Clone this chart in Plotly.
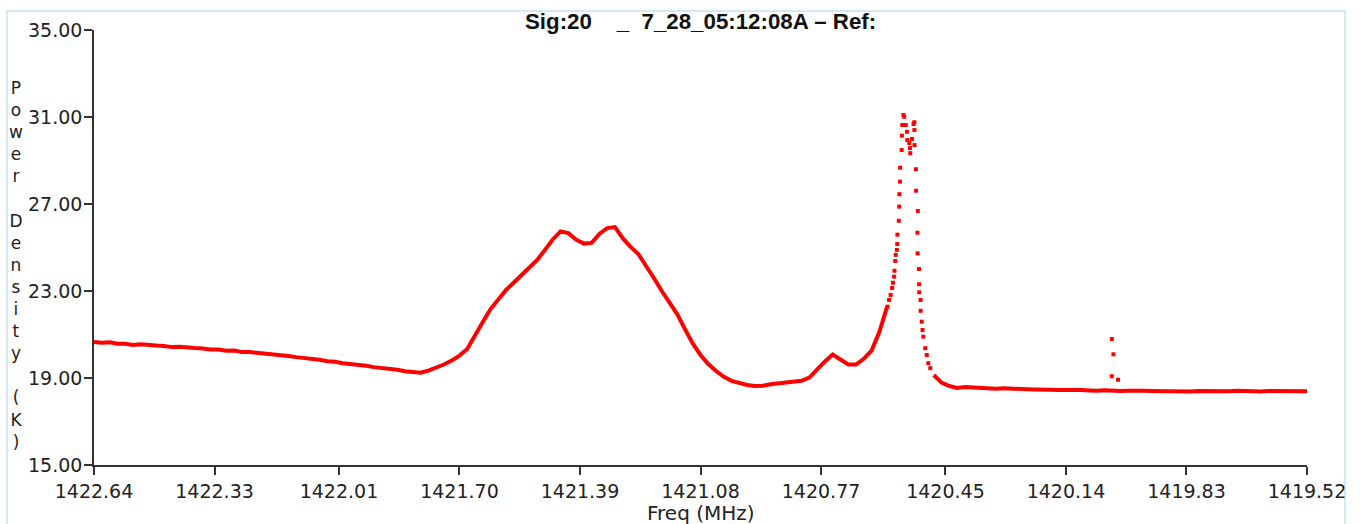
import plotly.graph_objects as go

# ---------------------------------------------------------------------------
# Spectrum data
# ---------------------------------------------------------------------------
# Continuum: evenly spaced channels starting at FREQ_START (MHz), step FREQ_STEP.
# None marks channels around the narrow line, which are listed separately.
FREQ_START = 1422.64
FREQ_STEP = -0.02

continuum_power = [
    20.66, 20.62, 20.64, 20.58, 20.57, 20.52, 20.55, 20.50, 20.49, 20.47,
    20.42, 20.44, 20.39, 20.38, 20.36, 20.31, 20.31, 20.25, 20.26, 20.20,
    20.19, 20.16, 20.10, 20.09, 20.03, 20.01, 19.96, 19.93, 19.86, 19.84,
    19.77, 19.75, 19.68, 19.65, 19.59, 19.56, 19.50, 19.47, 19.40, 19.38,
    19.31, 19.29, 19.24, 19.34, 19.46, 19.62, 19.80, 20.03, 20.33, 20.91,
    21.57, 22.17, 22.61, 23.05, 23.39, 23.74, 24.03, 24.43, 24.89, 25.37,
    25.74, 25.66, 25.36, 25.18, 25.21, 25.62, 25.89, 25.94, 25.43, 25.03,
    24.70, 24.18, 23.60, 23.01, 22.47, 21.94, 21.25, 20.59, 20.06, 19.64,
    19.32, 19.05, 18.87, 18.76, 18.68, 18.63, 18.64, 18.71, 18.74, 18.77,
    18.81, 18.87, 19.02, 19.41, 19.76, 20.08, 19.83, 19.62, 19.62, 19.88,
    20.26, 21.11, 22.28, None, None, None, None, None, 19.14, 18.79,
    18.63, 18.54, 18.59, 18.56, 18.54, 18.54, 18.51, 18.53, 18.50, 18.51,
    18.48, 18.47, 18.48, 18.46, 18.45, 18.46, 18.44, 18.45, 18.43, 18.41,
    18.44, 18.41, 18.40, 18.41, 18.39, 18.41, 18.40, 18.39, 18.41, 18.39,
    18.40, 18.38, 18.40, 18.39, 18.37, 18.40, 18.39, 18.41, 18.39, 18.40,
    18.38, 18.40, 18.39, 18.41, 18.39, 18.40, 18.39,
]

# Narrow hydrogen line, individual channels (MHz, K)
peak_freq = [
    1420.5990, 1420.5950, 1420.5910, 1420.5870, 1420.5850, 1420.5820,
    1420.5810, 1420.5790, 1420.5780, 1420.5750, 1420.5740, 1420.5735,
    1420.5700, 1420.5690, 1420.5685, 1420.5670, 1420.5665, 1420.5625,
    1420.5620, 1420.5610, 1420.5580, 1420.5560, 1420.5520, 1420.5490,
    1420.5480, 1420.5430, 1420.5410, 1420.5405, 1420.5360, 1420.5320,
    1420.5300, 1420.5298, 1420.5295, 1420.5260, 1420.5255, 1420.5210,
    1420.5220, 1420.5215, 1420.5180, 1420.5178, 1420.5175, 1420.5140,
    1420.5138, 1420.5110, 1420.5090, 1420.5070, 1420.5020, 1420.4980,
    1420.4940, 1420.4890,
]
peak_power = [
    22.28, 22.59, 22.82, 23.14, 23.38, 23.66,
    23.93, 24.38, 24.66, 24.89, 25.16, 25.59,
    26.23, 26.88, 27.45, 28.03, 28.67, 29.48,
    30.14, 30.63, 31.09, 31.01, 30.63, 30.32,
    29.94, 29.80, 29.57, 29.34, 29.99, 30.68,
    30.76, 30.40, 29.71, 28.60, 27.61, 26.68,
    25.68, 24.73, 24.01, 23.31, 22.94, 22.59,
    22.09, 21.59, 21.21, 20.90, 20.37, 20.06,
    19.68, 19.45,
]

# Interference spike
spike_freq = [1420.022, 1420.018, 1420.022, 1420.006]
spike_power = [20.79, 20.09, 19.08, 18.92]

x_tick_labels = ["1422.64", "1422.33", "1422.01", "1421.70", "1421.39", "1421.08",
                 "1420.77", "1420.45", "1420.14", "1419.83", "1419.52"]
y_tick_labels = ["15.00", "19.00", "23.00", "27.00", "31.00", "35.00"]

title_text = "Sig:20\u00a0\u00a0\u00a0\u00a0_\u00a0\u00a07_28_05:12:08A \u2013 Ref:"
y_title = "Power Density (K)"
x_title = "Freq (MHz)"

# ---------------------------------------------------------------------------
RED = "#ff0000"
AXIS = "#333333"
TICK_FONT = dict(family="DejaVu Sans", size=19, color="#222222")

W, H = 1360, 524
ML, MR, MT, MB = 94, 53, 30, 59
PW, PH = W - ML - MR, H - MT - MB


def px_to_paper_x(px):
    return (px - ML) / PW


def px_to_paper_y(py):
    return (H - MB - py) / PH


fig = go.Figure()

fig.add_trace(go.Scatter(
    x0=FREQ_START, dx=FREQ_STEP, y=continuum_power,
    mode="lines", line=dict(color=RED, width=4),
    connectgaps=False, hoverinfo="x+y", showlegend=False,
))
fig.add_trace(go.Scatter(
    x=peak_freq, y=peak_power, mode="markers",
    marker=dict(color=RED, size=4, symbol="square", line=dict(width=0)),
    showlegend=False,
))
fig.add_trace(go.Scatter(
    x=spike_freq, y=spike_power, mode="markers",
    marker=dict(color=RED, size=4, symbol="square", line=dict(width=0)),
    showlegend=False,
))

fig.update_xaxes(
    range=[float(x_tick_labels[0]), float(x_tick_labels[-1])],
    tickmode="array",
    tickvals=[float(t) for t in x_tick_labels],
    ticktext=x_tick_labels,
    ticks="outside", ticklen=8, tickwidth=1.5, tickcolor=AXIS,
    showline=True, linecolor=AXIS, linewidth=1.5,
    showgrid=False, zeroline=False, tickfont=TICK_FONT,
)
fig.update_yaxes(
    range=[float(y_tick_labels[0]), float(y_tick_labels[-1])],
    tickmode="array",
    tickvals=[float(t) for t in y_tick_labels],
    ticktext=y_tick_labels,
    ticks="outside", ticklen=8, tickwidth=1.5, tickcolor=AXIS,
    showline=True, linecolor=AXIS, linewidth=1.5,
    showgrid=False, zeroline=False, tickfont=TICK_FONT,
    ticklabelstandoff=-2,
)

# Vertical, one-character-per-line axis label
stacked = "<br>".join(ch if ch != " " else "\u00a0" for ch in y_title)

fig.update_layout(
    width=W, height=H,
    margin=dict(l=ML, r=MR, t=MT, b=MB, pad=0),
    paper_bgcolor="white", plot_bgcolor="white",
    shapes=[dict(
        type="rect", xref="paper", yref="paper", layer="below",
        x0=px_to_paper_x(7), x1=px_to_paper_x(1345),
        y0=px_to_paper_y(560), y1=px_to_paper_y(11),
        line=dict(color="#d4e9f3", width=2), fillcolor="rgba(0,0,0,0)",
    )],
    annotations=[
        dict(text="<b>" + title_text + "</b>", xref="paper", yref="paper",
             x=0.5, y=px_to_paper_y(22), xanchor="center", yanchor="middle",
             showarrow=False,
             font=dict(family="Liberation Sans", size=22.3, color="#111111")),
        dict(text=stacked, xref="paper", yref="paper",
             x=px_to_paper_x(16), y=px_to_paper_y(265),
             xanchor="center", yanchor="middle", align="center",
             showarrow=False,
             font=dict(family="DejaVu Sans", size=17, color="#222222")),
        dict(text=x_title, xref="paper", yref="paper",
             x=0.5, y=px_to_paper_y(513), xanchor="center", yanchor="middle",
             showarrow=False,
             font=dict(family="DejaVu Sans", size=20, color="#222222")),
    ],
)

fig.write_html("out.html")
